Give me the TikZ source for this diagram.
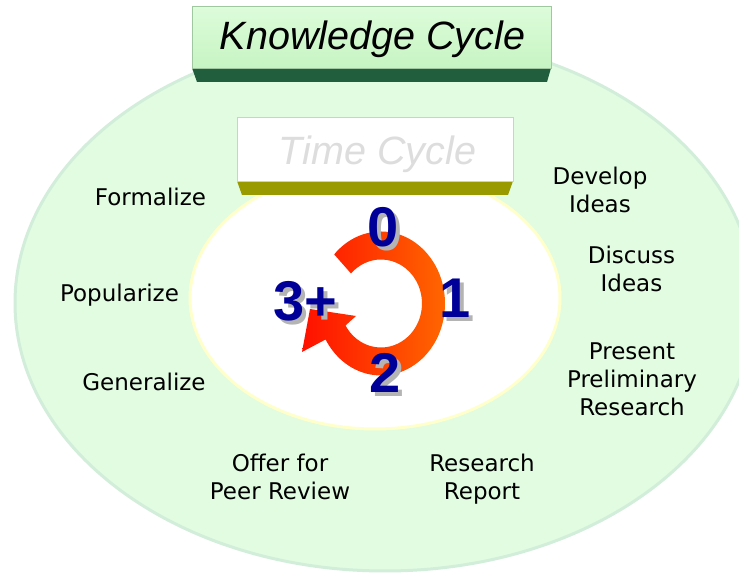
\documentclass[tikz,border=0pt]{standalone}
\usepackage{fontspec}
\setmainfont{DejaVu Sans}
\newfontfamily\arialf{Liberation Sans}
\usetikzlibrary{calc}
\definecolor{outerfill}{HTML}{E1FCE1}
\definecolor{outerline}{HTML}{D2EEDA}
\definecolor{innerline}{HTML}{FFFFCC}
\definecolor{titletop}{HTML}{DDFCDA}
\definecolor{titlebot}{HTML}{C6F4C2}
\definecolor{titleline}{HTML}{A0C8A0}
\definecolor{titlebevel}{HTML}{215E3E}
\definecolor{timeline}{HTML}{C8D4C8}
\definecolor{timebevel}{HTML}{999900}
\definecolor{timetext}{HTML}{DDDDDD}
\definecolor{numblue}{HTML}{000099}
\definecolor{numshadow}{HTML}{B4B4B4}
\definecolor{ringred}{HTML}{FF1000}
\definecolor{ringorange}{HTML}{FF6A00}
\newcommand{\shadowed}[1]{\rlap{\hspace{4pt}\raisebox{-4pt}{\textcolor{numshadow}{#1}}}\textcolor{numblue}{#1}}
\begin{document}
\begin{tikzpicture}[x=1pt,y=1pt,
  lbl/.style={font=\fontsize{23}{28}\selectfont, align=center, text=black, inner sep=0, anchor=base},
  numtxt/.style={font=\arialf\bfseries\fontsize{56}{56}\selectfont, inner sep=0, anchor=base},
  boxtitle/.style={font=\arialf\itshape\fontsize{39.5}{39.5}\selectfont, inner sep=0, anchor=base}]
\useasboundingbox (0,0) rectangle (739,575);
\clip (0,0) rectangle (739,575);
\fill[white] (0,0) rectangle (739,575);
% outer ellipse
\draw[fill=outerfill, draw=outerline, line width=3] (385,272) ellipse [x radius=370, y radius=268];
% inner ellipse
\draw[fill=white, draw=innerline, line width=3] (375,277) ellipse [x radius=185, y radius=131];
% title box
\fill[titlebevel] (192,507) -- (551,507) -- (547,493) -- (197,493) -- cycle;
\draw[top color=titletop, bottom color=titlebot, draw=titleline, line width=1] (192,506) rectangle (551,568);
\node[boxtitle] (title) at (372.5,525) {Knowledge Cycle};
% time box
\fill[timebevel] (237,394) -- (513,394) -- (508,380) -- (242,380) -- cycle;
\draw[fill=white, draw=timeline, line width=1] (237,393) rectangle (513,457);
\node[boxtitle, text=timetext] (time) at (377.5,410) {Time Cycle};
% ring arrow
\coordinate (rc) at (381,271.5);
\shade[left color=ringred, right color=ringorange]
  ($(rc)+(137:64 and 72)$) arc[start angle=137, end angle=-150, x radius=64, y radius=72]
  -- (302,223) -- (310,266) -- (356,259)
  -- ($(rc)+(-150:41 and 44)$) arc[start angle=-150, end angle=137, x radius=41, y radius=44]
  -- cycle;
% numbers (with drop shadow)
\node[numtxt] (n0) at (383,328.5) {\shadowed{0}};
\node[numtxt] (n1) at (455,257) {\shadowed{1}};
\node[numtxt] (n2) at (385,182.5) {\shadowed{2}};
\node[numtxt] (n3) at (305,254.5) {\shadowed{3+}};
% labels
\node[lbl] (formalize) at (150.5,369) {Formalize};
\node[lbl] (popularize) at (119.5,273) {Popularize};
\node[lbl] (generalize) at (144,184) {Generalize};
\node[lbl] (offer) at (280,75) {Offer for\\Peer Review};
\node[lbl] (report) at (482,75) {Research\\Report};
\node[lbl] (develop) at (600,362) {Develop\\Ideas};
\node[lbl] (discuss) at (631.5,283) {Discuss\\Ideas};
\node[lbl] (present) at (632,159) {Present\\Preliminary\\Research};
\end{tikzpicture}
\end{document}
